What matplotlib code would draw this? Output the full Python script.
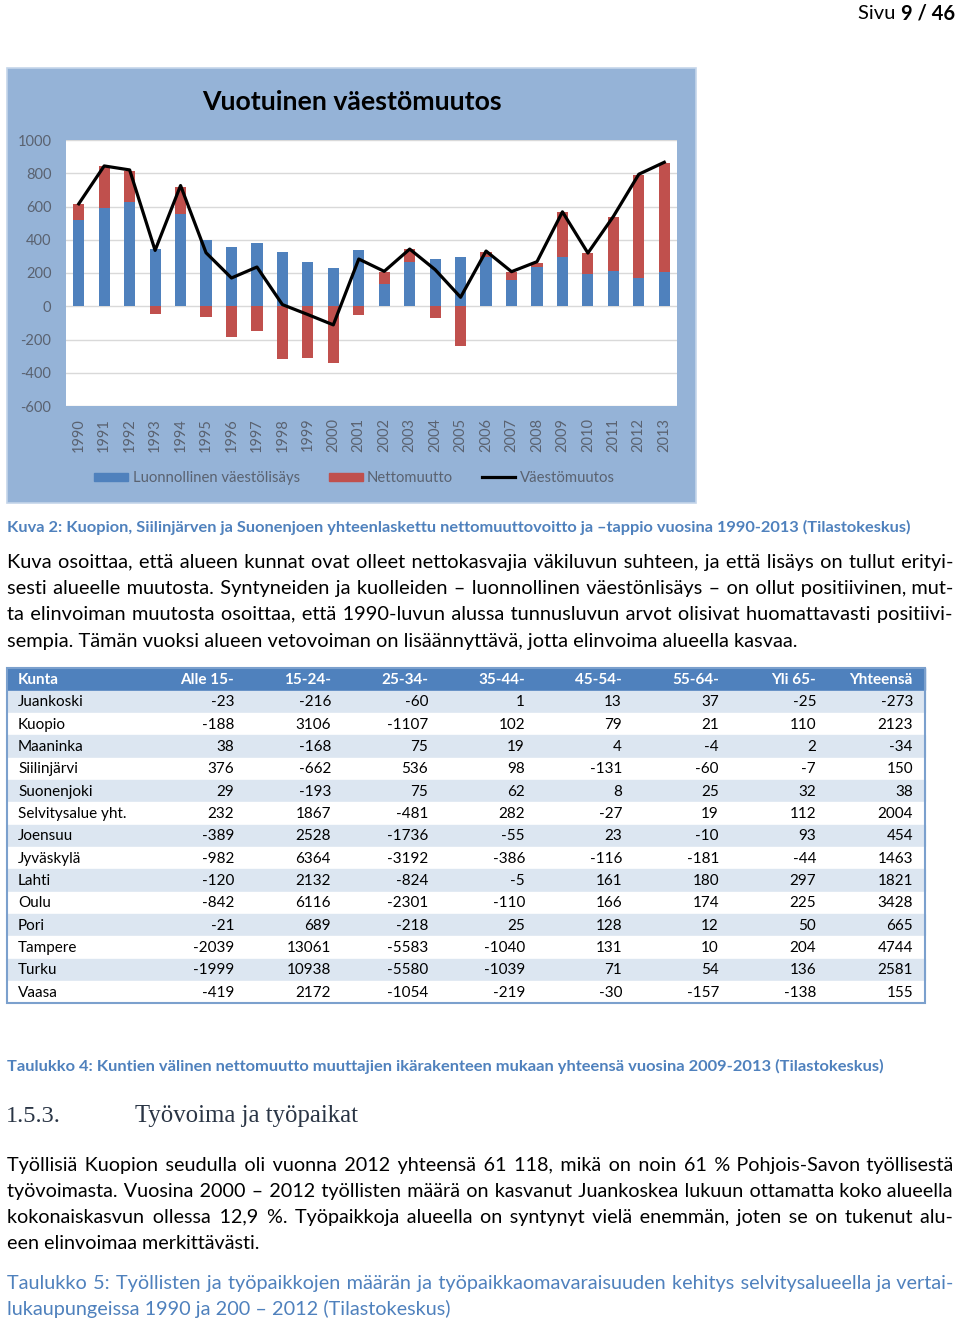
import matplotlib
matplotlib.use('Agg')
import matplotlib.pyplot as plt
from matplotlib.patches import Rectangle
import numpy as np

plt.rcParams['font.family'] = ['Lato', 'DejaVu Sans']
plt.rcParams['axes.unicode_minus'] = False

# chart data
years = ['1990', '1991', '1992', '1993', '1994', '1995', '1996', '1997', '1998', '1999', '2000', '2001',
         '2002', '2003', '2004', '2005', '2006', '2007', '2008', '2009', '2010', '2011', '2012', '2013']
natural = [516, 592, 628, 346, 556, 400, 354, 382, 328, 266, 228, 336,
           132, 268, 286, 294, 298, 160, 236, 294, 196, 214, 170, 204]
net = [100, 252, 188, -44, 164, -64, -184, -150, -316, -310, -340, -54,
       76, 76, -72, -240, 30, 48, 26, 274, 122, 324, 620, 658]
change = [616, 844, 820, 336, 726, 322, 170, 236, 10, -50, -112, 284,
          210, 344, 220, 54, 332, 208, 268, 568, 320, 540, 794, 866]

# table data
columns = ['Kunta', 'Alle 15-', '15-24-', '25-34-', '35-44-', '45-54-', '55-64-', 'Yli 65-', 'Yhteensä']
kunnat = ['Juankoski', 'Kuopio', 'Maaninka', 'Siilinjärvi', 'Suonenjoki', 'Selvitysalue yht.', 'Joensuu',
          'Jyväskylä', 'Lahti', 'Oulu', 'Pori', 'Tampere', 'Turku', 'Vaasa']
alle15 = [-23, -188, 38, 376, 29, 232, -389, -982, -120, -842, -21, -2039, -1999, -419]
v15_24 = [-216, 3106, -168, -662, -193, 1867, 2528, 6364, 2132, 6116, 689, 13061, 10938, 2172]
v25_34 = [-60, -1107, 75, 536, 75, -481, -1736, -3192, -824, -2301, -218, -5583, -5580, -1054]
v35_44 = [1, 102, 19, 98, 62, 282, -55, -386, -5, -110, 25, -1040, -1039, -219]
v45_54 = [13, 79, 4, -131, 8, -27, 23, -116, 161, 166, 128, 131, 71, -30]
v55_64 = [37, 21, -4, -60, 25, 19, -10, -181, 180, 174, 12, 10, 54, -157]
yli65 = [-25, 110, 2, -7, 32, 112, 93, -44, 297, 225, 50, 204, 136, -138]
yht = [-273, 2123, -34, 150, 38, 2004, 454, 1463, 1821, 3428, 665, 4744, 2581, 155]

para1 = ['Kuva osoittaa, että alueen kunnat ovat olleet nettokasvajia väkiluvun suhteen, ja että lisäys on tullut erityi-',
         'sesti alueelle muutosta. Syntyneiden ja kuolleiden – luonnollinen väestönlisäys – on ollut positiivinen, mut-',
         'ta elinvoiman muutosta osoittaa, että 1990-luvun alussa tunnusluvun arvot olisivat huomattavasti positiivi-',
         'sempia. Tämän vuoksi alueen vetovoiman on lisäännyttävä, jotta elinvoima alueella kasvaa.']
para2 = ['Työllisiä Kuopion seudulla oli vuonna 2012 yhteensä 61 118, mikä on noin 61 % Pohjois-Savon työllisestä',
         'työvoimasta. Vuosina 2000 – 2012 työllisten määrä on kasvanut Juankoskea lukuun ottamatta koko alueella',
         'kokonaiskasvun ollessa 12,9 %. Työpaikkoja alueella on syntynyt vielä enemmän, joten se on tukenut alu-',
         'een elinvoimaa merkittävästi.']
cap5 = ['Taulukko 5: Työllisten ja työpaikkojen määrän ja työpaikkaomavaraisuuden kehitys selvitysalueella ja vertai-',
        'lukaupungeissa 1990 ja 200 – 2012 (Tilastokeskus)']

blue = '#4F81BD'
red = '#C0504D'
grey = '#5A6270'

W, H = 960, 1326
fig = plt.figure(figsize=(9.6, 13.26), dpi=100)
bg = fig.add_axes([0, 0, 1, 1])
bg.set_xlim(0, W)
bg.set_ylim(H, 0)
bg.axis('off')
renderer = fig.canvas.get_renderer()


def width(t):
    return t.get_window_extent(renderer).width


def text_w(s, size, **kw):
    t = bg.text(0, 0, s, fontsize=size, **kw)
    w = width(t)
    t.remove()
    return w


def fit(x0, x1, y, s, size, **kw):
    # scale the font so the text spans x0..x1
    t = bg.text(x0, y, s, fontsize=size, va='baseline', **kw)
    t.set_fontsize(size * (x1 - x0) / width(t))
    return t


def paragraph(lines, x0, x1, ys, size, last_free=True, **kw):
    # one size for the block, full lines justified with hair spaces
    full = lines[:-1] if last_free else lines
    for s in full:
        size = min(size, size * (x1 - x0) / text_w(s, size, **kw) * 0.99)
    hs = '\u200a'
    hw = (text_w('x' + hs * 40 + 'x', size, **kw) - text_w('xx', size, **kw)) / 40
    for i, (s, y) in enumerate(zip(lines, ys)):
        t = bg.text(x0, y, s, fontsize=size, va='baseline', **kw)
        if last_free and i == len(lines) - 1:
            continue
        words = s.split(' ')
        total = int(round((x1 - x0 - width(t)) / hw))
        base, extra = divmod(total, len(words) - 1)
        out = words[0]
        for j, w in enumerate(words[1:]):
            out += ' ' + hs * (base + (1 if j < extra else 0)) + w
        t.set_text(out)


# page number
t46 = bg.text(955, 19, '9 / 46', fontsize=14.5, fontweight='bold', ha='right', va='baseline')
bg.text(955 - width(t46), 19, 'Sivu ', fontsize=14.5, ha='right', va='baseline')

# chart frame
bg.add_patch(Rectangle((7, 68), 689, 435, facecolor='#95B3D7', edgecolor='#C5D5EA', lw=1.2))
fit(202, 500, 110, 'Vuotuinen väestömuutos', 20, fontweight='bold', color='black')

ax = fig.add_axes([66 / W, 1 - 406 / H, (677 - 66) / W, (406 - 140) / H])
ax.set_facecolor('white')
x = np.arange(len(years))
bottoms = [n if m > 0 else 0 for n, m in zip(natural, net)]
ax.bar(x, natural, width=0.44, color=blue, zorder=2)
ax.bar(x, net, width=0.44, bottom=bottoms, color=red, zorder=2)
ax.plot(x, change, color='black', lw=2.3, zorder=3)
ax.set_xlim(-0.5, len(years) - 0.5)
ax.set_ylim(-600, 1000)
ax.set_yticks(range(-600, 1001, 200))
ax.set_xticks(x)
ax.set_xticklabels(years, rotation=90)
ax.grid(axis='y', color='#D9D9D9', lw=1)
ax.set_axisbelow(True)
for sp in ax.spines.values():
    sp.set_visible(False)
ax.tick_params(length=0, labelsize=10.5, labelcolor=grey)
ax.tick_params(axis='y', pad=10.5)
ax.tick_params(axis='x', pad=8.5)

# legend
bg.add_patch(Rectangle((94, 473), 34, 8, color=blue))
fit(133, 299, 482, 'Luonnollinen väestölisäys', 11, color=grey)
bg.add_patch(Rectangle((329, 473), 34, 8, color=red))
fit(367, 452, 482, 'Nettomuutto', 11, color=grey)
bg.plot([482, 515], [477, 477], color='black', lw=2.3)
fit(520, 614, 482, 'Väestömuutos', 11, color=grey)

# caption and text
fit(7, 916, 532, 'Kuva 2: Kuopion, Siilinjärven ja Suonenjoen yhteenlaskettu nettomuuttovoitto ja –tappio vuosina 1990-2013 (Tilastokeskus)',
    10, fontweight='bold', color=blue)
paragraph(para1, 7, 953, [568, 594, 620, 647], 20, color='black')

# table
rh = (1003 - 690) / len(kunnat)
bg.add_patch(Rectangle((7, 668), 918, 22, color=blue))
for i in range(len(kunnat)):
    y0 = 690 + i * rh
    bg.add_patch(Rectangle((7, y0 + 0.5), 918, rh - 1, color='#DCE6F1' if i % 2 == 0 else 'white'))
bg.add_patch(Rectangle((7, 668), 918, 335, fill=False, edgecolor='#7BA0CD', lw=1.5))
right = [234, 331, 428, 525, 622, 719, 816, 913]
bg.text(18, 684, columns[0], fontsize=11, fontweight='bold', color='white', va='baseline')
for c, xr in zip(columns[1:], right):
    bg.text(xr, 684, c, fontsize=11, fontweight='bold', color='white', va='baseline', ha='right')
cols = [alle15, v15_24, v25_34, v35_44, v45_54, v55_64, yli65, yht]
for i, k in enumerate(kunnat):
    yb = 690 + i * rh + rh / 2 + 5
    bg.text(18, yb, k, fontsize=11, va='baseline')
    for col, xr in zip(cols, right):
        bg.text(xr, yb, str(col[i]), fontsize=11, va='baseline', ha='right')

fit(7, 888, 1071, 'Taulukko 4: Kuntien välinen nettomuutto muuttajien ikärakenteen mukaan yhteensä vuosina 2009-2013 (Tilastokeskus)',
    10, fontweight='bold', color=blue)

# heading
fit(6, 60, 1122, '1.5.3.', 17, family='Liberation Serif', color='#2A3545')
fit(135, 358, 1122, 'Työvoima ja työpaikat', 17, family='Liberation Serif', color='#2A3545')

paragraph(para2, 7, 953, [1171, 1197, 1223, 1249], 20, color='black')
paragraph(cap5, 7, 953, [1289, 1315], 20, color=blue)

fig.savefig('out.png', dpi=100)
